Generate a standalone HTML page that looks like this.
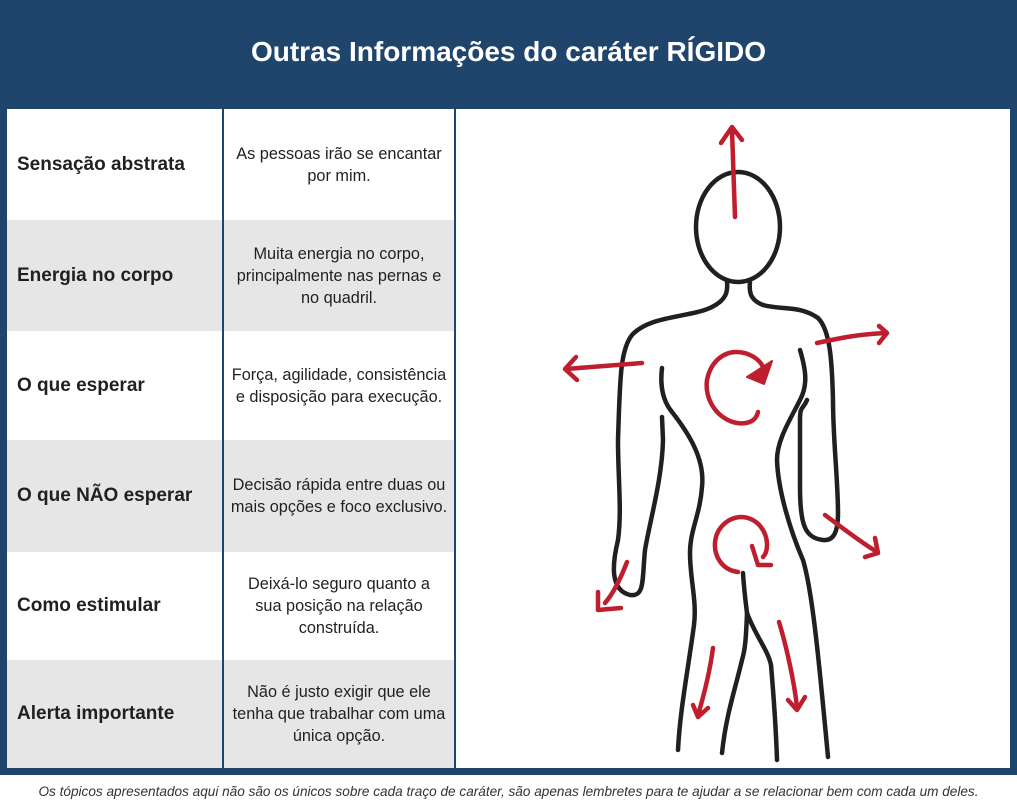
<!DOCTYPE html>
<html><head><meta charset="utf-8"><style>
*{margin:0;padding:0;box-sizing:border-box}
body{width:1017px;height:806px;background:#fff;position:relative;overflow:hidden;font-family:"Liberation Sans",sans-serif}
.frame{position:absolute;left:0;top:0;width:1017px;height:775px;background:#1f456d}
.title{position:absolute;left:0;top:36px;width:1017px;text-align:center;color:#fff;font-weight:bold;font-size:28px}
.row{position:absolute;left:7px;width:447px;display:flex}
.c1{width:215px;height:100%;display:flex;align-items:center;padding-left:10px;font-weight:bold;font-size:19px;color:#231f20}
.c2{position:absolute;left:217px;width:230px;height:100%;display:flex;align-items:center;justify-content:center;text-align:center;font-size:16.3px;line-height:22px;color:#231f20}
.g{background:#e6e6e6}.w{background:#fff}
.div{position:absolute;top:109px;height:659px;width:2px;background:#1f456d}
.panel{position:absolute;left:456px;top:109px;width:554px;height:659px;background:#fff}
.foot{position:absolute;left:0;top:784px;width:1017px;text-align:center;font-style:italic;font-size:13.6px;color:#333}
</style></head><body>
<div class="frame"></div>
<div class="title">Outras Informações do caráter RÍGIDO</div>
<div class="row w" style="top:109px;height:111px"><div class="c1">Sensação abstrata</div><div class="c2">As pessoas irão se encantar<br>por mim.</div></div>
<div class="row g" style="top:220px;height:111px"><div class="c1">Energia no corpo</div><div class="c2">Muita energia no corpo,<br>principalmente nas pernas e<br>no quadril.</div></div>
<div class="row w" style="top:331px;height:109px"><div class="c1">O que esperar</div><div class="c2">Força, agilidade, consistência<br>e disposição para execução.</div></div>
<div class="row g" style="top:440px;height:112px"><div class="c1">O que NÃO esperar</div><div class="c2">Decisão rápida entre duas ou<br>mais opções e foco exclusivo.</div></div>
<div class="row w" style="top:552px;height:108px"><div class="c1">Como estimular</div><div class="c2">Deixá-lo seguro quanto a<br>sua posição na relação<br>construída.</div></div>
<div class="row g" style="top:660px;height:108px"><div class="c1">Alerta importante</div><div class="c2">Não é justo exigir que ele<br>tenha que trabalhar com uma<br>única opção.</div></div>
<div class="div" style="left:222px"></div>
<div class="div" style="left:454px"></div>
<div class="panel"></div>
<svg style="position:absolute;left:0;top:0" width="1017" height="806">
<g fill="none" stroke="#231f20" stroke-width="4.5" stroke-linecap="round" stroke-linejoin="round">
<ellipse cx="738" cy="227" rx="42" ry="55"/>
<path d="M727,282 C728,292 726,300 712,307 C690,318 650,315 632,335 C620,350 620,380 618,440 C618,480 622,510 618,540 C612,565 610,590 630,595 C645,597 642,580 645,550 C650,520 662,480 663,440 L662,417"/>
<path d="M662,368 C660,385 662,400 672,412 C690,435 705,460 702,487 C700,515 690,530 690,553 C690,580 697,600 694,625 C688,670 680,710 678,750"/>
<path d="M750,282 C749,292 750,300 763,305 C780,310 800,305 818,318 C830,330 832,360 833,400 C833,440 838,480 838,513 C838,535 832,541 823,540 C805,538 800,525 800,487 L800,420 C800,405 803,410 807,400"/>
<path d="M800,350 C806,370 808,385 800,400 C790,420 777,440 777,460 C778,490 790,530 803,560 C812,590 818,650 828,757"/>
<path d="M743,573 C744,590 746,605 747,613 C746,640 745,650 742,660 C735,690 726,715 722,753"/>
<path d="M747,613 C755,635 768,650 771,665 C774,700 776,730 777,760"/>
</g>
<g fill="none" stroke="#be1e2d" stroke-width="4.5" stroke-linecap="round" stroke-linejoin="round">
<path d="M735,217 L732,130"/><path d="M721,143 L732,127 L742,140"/>
<path d="M642,363 L566,369"/><path d="M576,357 L565,369 L577,380"/>
<path d="M817,343 C840,338 860,334 886,333"/><path d="M879,326 L887,333 L879,343"/>
<path d="M758,412 C755,425 740,425 730,421 C712,413 705,395 707,380 C711,360 725,352 736,352 C750,352 760,360 763,367"/>
<path d="M738,572 C722,570 714,556 715,543 C716,528 728,517 742,517 C758,518 767,532 767,545 C767,552 765,555 763,557"/>
<path d="M752,546 L758,565 L771,565"/>
<path d="M627,562 C620,580 612,595 605,603"/><path d="M598,592 L598,610 L621,608"/>
<path d="M825,515 C845,530 862,543 877,552"/><path d="M875,538 L878,553 L865,557"/>
<path d="M713,648 C710,670 704,695 698,715"/><path d="M693,705 L698,717 L708,708"/>
<path d="M779,622 C786,645 794,680 797,707"/><path d="M788,700 L797,710 L805,697"/>
</g>
<polygon points="772,361 747,377 764,384" fill="#be1e2d" stroke="#be1e2d" stroke-width="2" stroke-linejoin="round"/>
</svg>
<div class="foot">Os tópicos apresentados aqui não são os únicos sobre cada traço de caráter, são apenas lembretes para te ajudar a se relacionar bem com cada um deles.</div>
</body></html>
